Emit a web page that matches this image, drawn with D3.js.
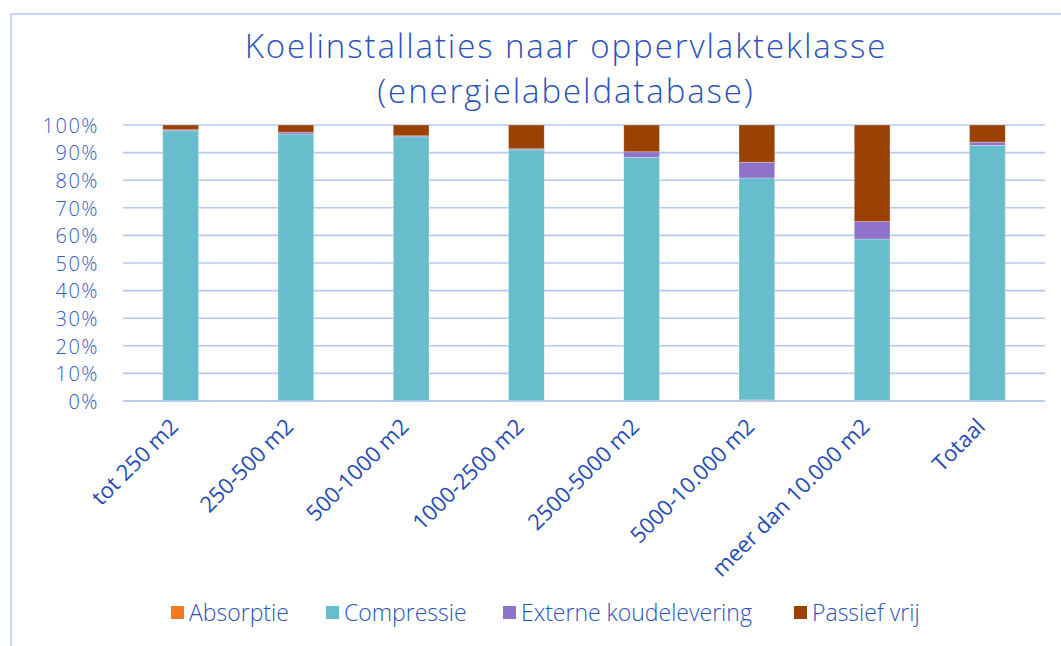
<!DOCTYPE html>
<html>
<head>
<meta charset="utf-8">
<script src="https://cdn.jsdelivr.net/npm/d3@7"></script>
<style>
  html, body { margin: 0; padding: 0; background: #fff; }
  svg { display: block; }
  text { font-family: "Open Sans", Lato, sans-serif; font-weight: 300; }
</style>
</head>
<body>
<div id="chart"></div>
<script>
// data (percent of each class)
var categories = ["tot 250 m2", "250-500 m2", "500-1000 m2", "1000-2500 m2",
  "2500-5000 m2", "5000-10.000 m2", "meer dan 10.000 m2", "Totaal"];
var seriesNames = ["Absorptie", "Compressie", "Externe koudelevering", "Passief vrij"];
var absorptie = [0, 0, 0, 0, 0.1, 0.4, 0.2, 0.1];
var compressie = [97.9, 96.7, 95.7, 91.0, 88.2, 80.4, 58.5, 92.5];
var extern = [0.4, 0.7, 0.4, 0.4, 2.0, 5.7, 6.3, 1.2];
var passief = [1.7, 2.6, 3.9, 8.6, 9.7, 13.5, 35.0, 6.2];
var yTicks = [0, 10, 20, 30, 40, 50, 60, 70, 80, 90, 100];
var colors = ["#f47a1f", "#67bdcc", "#8e72cb", "#9c4104"];

var W = 1061, H = 646;
var margin = {left: 123, right: 16, top: 125, bottom: 245};
var textBlue = "#2a52be";

var svg = d3.select("#chart").append("svg")
  .attr("width", W).attr("height", H);

// chart frame
svg.append("rect")
  .attr("x", 11).attr("y", 14)
  .attr("width", W + 10).attr("height", H + 10)
  .attr("fill", "none")
  .attr("stroke", "#b4c8f2")
  .attr("stroke-width", 1.5);

// title, two lines
svg.selectAll(".title")
  .data(["Koelinstallaties naar oppervlakteklasse", "(energielabeldatabase)"])
  .enter().append("text")
  .attr("class", "title")
  .attr("x", 566)
  .attr("y", (d, i) => 58 + i * 45)
  .attr("text-anchor", "middle")
  .attr("fill", textBlue)
  .style("font-size", "33px")
  .style("letter-spacing", "1.9px")
  .text(d => d);

var x = d3.scaleBand()
  .domain(categories)
  .range([margin.left, W - margin.right])
  .paddingInner(0.69)
  .paddingOuter(0.345);

var y = d3.scaleLinear()
  .domain([0, 100])
  .range([H - margin.bottom, margin.top]);

// gridlines
svg.append("g")
  .selectAll("line")
  .data(yTicks)
  .enter().append("line")
  .attr("x1", margin.left)
  .attr("x2", W - margin.right)
  .attr("y1", d => y(d))
  .attr("y2", d => y(d))
  .attr("stroke", "#b4c8f2")
  .attr("stroke-width", 1.6);

// y axis labels
var yAxis = svg.append("g")
  .attr("transform", "translate(" + (margin.left - 21) + ",0)")
  .call(d3.axisLeft(y).tickValues(yTicks).tickSize(0).tickFormat(d => d + "%"));
yAxis.select(".domain").remove();
yAxis.selectAll("text")
  .attr("fill", "#3159c9")
  .attr("dy", "0.36em")
  .style("font-size", "20px")
  .style("letter-spacing", "1.5px")
  .style("font-family", "'Open Sans', sans-serif")
  .style("font-weight", 300);

// stacked bars
var rows = categories.map(function (c, i) {
  return {cat: c, "Absorptie": absorptie[i], "Compressie": compressie[i],
    "Externe koudelevering": extern[i], "Passief vrij": passief[i]};
});
var stack = d3.stack().keys(seriesNames)(rows);

svg.append("g")
  .selectAll("g")
  .data(stack)
  .enter().append("g")
  .attr("fill", (d, i) => colors[i])
  .selectAll("rect")
  .data(d => d)
  .enter().append("rect")
  .attr("x", d => x(d.data.cat))
  .attr("width", x.bandwidth())
  .attr("y", d => y(d[1]))
  .attr("height", d => y(d[0]) - y(d[1]))
  .attr("stroke", "rgba(255,255,255,0.35)")
  .attr("stroke-width", 0.8);

// bottom axis line
svg.append("line")
  .attr("x1", margin.left).attr("x2", W - margin.right)
  .attr("y1", y(0)).attr("y2", y(0))
  .attr("stroke", "#b4c8f2").attr("stroke-width", 1.6);

// x labels rotated
svg.append("g")
  .selectAll("text")
  .data(categories)
  .enter().append("text")
  .attr("transform", d => "translate(" + (x(d) + x.bandwidth() / 2 - 1) + "," + (y(0) + 27) + ") rotate(-45)")
  .attr("text-anchor", "end")
  .attr("fill", "#1f4bb8")
  .style("font-size", "22px")
  .style("font-weight", 400)
  .text(d => d);

// legend
var legendX = [171, 326, 503, 794];
var legend = svg.append("g")
  .selectAll("g")
  .data(seriesNames)
  .enter().append("g")
  .attr("transform", (d, i) => "translate(" + legendX[i] + ",613)");
legend.append("rect")
  .attr("x", 0).attr("y", -7)
  .attr("width", 13).attr("height", 13)
  .attr("fill", (d, i) => colors[i]);
legend.append("text")
  .attr("x", 18).attr("y", 8)
  .attr("fill", "#2a52be")
  .style("font-size", "23px")
  .text(d => d);
</script>
</body>
</html>
